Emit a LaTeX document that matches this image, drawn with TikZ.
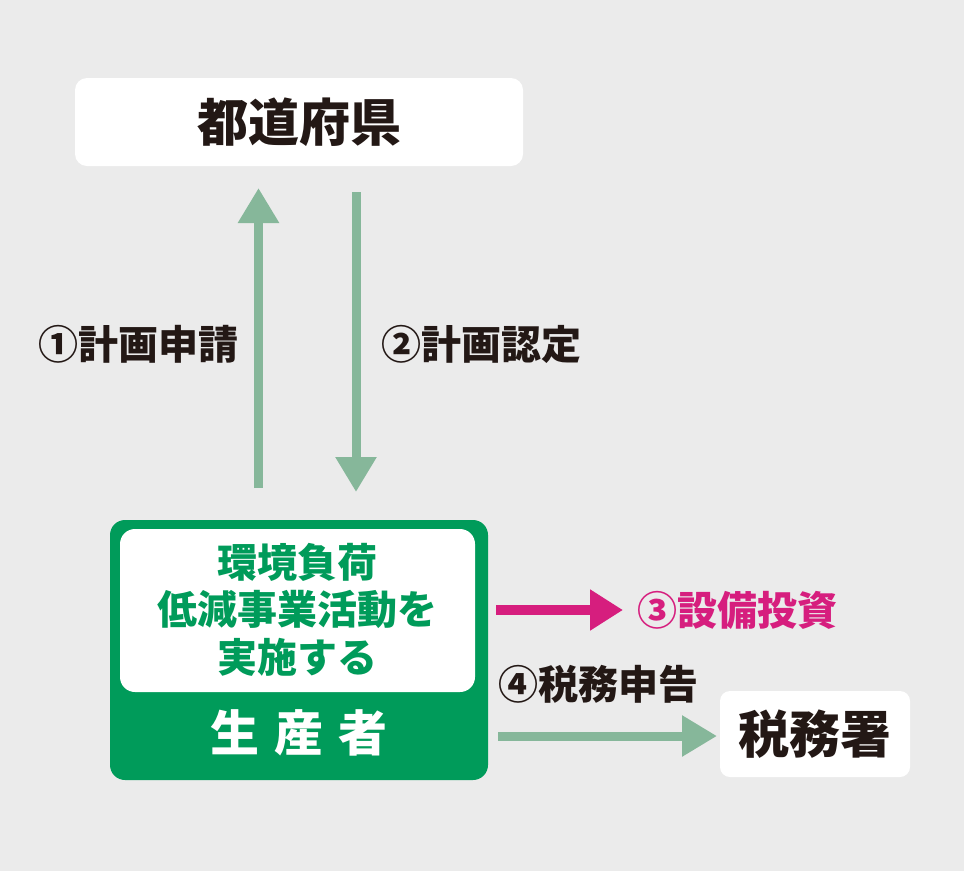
\documentclass[tikz,border=0pt]{standalone}
\usepackage{fontspec}
\setmainfont{Noto Sans CJK JP}
\usetikzlibrary{arrows.meta}
\definecolor{bg}{RGB}{235,235,235}
\definecolor{ink}{RGB}{35,24,21}
\definecolor{pgreen}{RGB}{0,155,90}
\definecolor{agreen}{RGB}{134,183,154}
\definecolor{mag}{RGB}{214,30,126}
\begin{document}
\begin{tikzpicture}[x=1pt,y=-1pt,
  whitebox/.style={rectangle,fill=white,inner sep=0pt,rounded corners=12pt},
  lbl/.style={inner sep=0pt,font=\fontsize{40pt}{44pt}\selectfont\bfseries,text=ink},
  gtxt/.style={inner sep=0pt,font=\fontsize{40pt}{44pt}\selectfont\bfseries,text=pgreen},
  garrow/.style={draw=agreen,line width=9pt,-{Triangle[width=39pt,length=35pt]}},
  marrow/.style={draw=mag,line width=10pt,-{Triangle[width=39pt,length=33pt]}}]
\fill[bg] (0,0) rectangle (964,871);
\useasboundingbox (0,0) rectangle (964,871);
% prefecture
\node[whitebox,minimum width=448pt,minimum height=88pt,font=\fontsize{51pt}{56pt}\selectfont\bfseries,text=ink] (pref) at (299,122) {都道府県};
% producer
\node[rectangle,fill=pgreen,rounded corners=15pt,minimum width=378pt,minimum height=260pt,inner sep=0pt] (prod) at (299,650) {};
\node[whitebox,rounded corners=15pt,minimum width=355pt,minimum height=163pt] (act) at (297.5,610.5) {};
\node[gtxt] (t1) at (297.5,562) {環境負荷};
\node[gtxt] (t2) at (297.5,609) {低減事業活動を};
\node[gtxt] (t3) at (297.5,657) {実施する};
\node[inner sep=0pt,font=\fontsize{49pt}{52pt}\selectfont\bfseries,text=white] (pname) at (299,733) {生\hspace{15pt}産\hspace{15pt}者};
% tax office
\node[whitebox,rounded corners=10pt,minimum width=190pt,minimum height=86pt,font=\fontsize{51pt}{56pt}\selectfont\bfseries,text=ink] (tax) at (815,734) {税務署};
% labels
\node[lbl] (l1) at (138,344) {①計画申請};
\node[lbl] (l2) at (481,344) {②計画認定};
\node[lbl,text=mag] (l3) at (737,610) {③設備投資};
\node[lbl] (l4) at (598,684) {④税務申告};
% arrow ends
\coordinate (a1s) at (258.5,488);
\coordinate (a1e) at (258.5,188);
\coordinate (a2s) at (356,192);
\coordinate (a2e) at (356,492);
\coordinate (a3s) at (496,610);
\coordinate (a3e) at (623,610);
\coordinate (a4s) at (498,736);
\coordinate (a4e) at (717,736);
\draw[garrow] (a1s) -- (a1e);
\draw[garrow] (a2s) -- (a2e);
\draw[marrow] (a3s) -- (a3e);
\draw[garrow] (a4s) -- (a4e);
\end{tikzpicture}
\end{document}
